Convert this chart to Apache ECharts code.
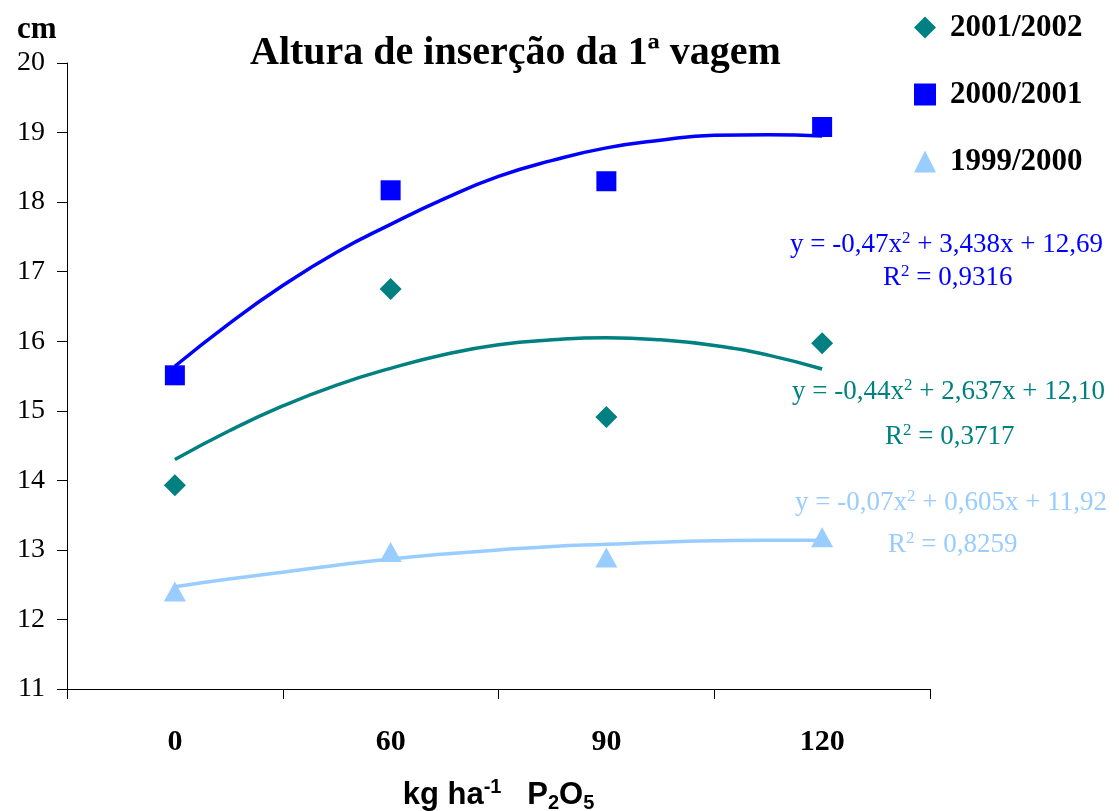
<!DOCTYPE html>
<html>
<head>
<meta charset="utf-8">
<script src="https://cdn.jsdelivr.net/npm/echarts@6/dist/echarts.min.js"></script>
<style>
  html, body { margin: 0; padding: 0; background: #fff; }
  #chart { width: 1119px; height: 811px; }
</style>
</head>
<body>
<div id="chart"></div>
<script>
// doses (categorias do eixo x)
var doses = ['0', '60', '90', '120'];
var yTicks = [11, 12, 13, 14, 15, 16, 17, 18, 19, 20];

// valores observados
var s2001 = [13.93, 16.75, 14.91, 15.97];
var s2000 = [15.51, 18.17, 18.30, 19.08];
var s1999 = [12.40, 12.97, 12.89, 13.18];

// linhas de tendência (posição x = 1..4)
var trendX = [1, 1.25, 1.5, 1.75, 2, 2.25, 2.5, 2.75, 3, 3.25, 3.5, 3.75, 4];
var trend2001 = [14.30, 14.71, 15.07, 15.37, 15.61, 15.81, 15.95, 16.02, 16.05, 16.02, 15.94, 15.80, 15.60];
var trend2000 = [15.64, 16.25, 16.80, 17.28, 17.68, 18.05, 18.37, 18.60, 18.78, 18.89, 18.96, 18.97, 18.95];
var trend1999 = [12.47, 12.58, 12.68, 12.78, 12.87, 12.94, 13.00, 13.05, 13.08, 13.11, 13.13, 13.14, 13.14];

var cTeal = '#008080', cBlue = '#0000FF', cLight = '#99CCFF';
var serif = '"Liberation Serif", "Times New Roman", serif';
var sans = '"Liberation Sans", Arial, sans-serif';

function pairs(xs, ys) {
    return xs.map(function (x, i) { return [x, ys[i]]; });
}

// texto da equação com expoente
function eqText(x, y, color, txt) {
    return {
        type: 'text', x: x, y: y,
        style: {
            text: txt, fill: color, align: 'left', verticalAlign: 'middle',
            rich: {
                n: { fontSize: 27, fontFamily: serif, color: color },
                s: { fontSize: 17, fontFamily: serif, color: color, verticalAlign: 'top', padding: [0, 0, 12, 0] }
            }
        }
    };
}

var myChart = echarts.init(document.getElementById('chart'));
myChart.setOption({
    backgroundColor: '#fff',
    animation: false,
    title: {
        text: 'Altura de inserção da 1ª vagem',
        left: 245, top: 29,
        textStyle: { fontFamily: serif, fontSize: 40, fontWeight: 'bold', color: '#000' }
    },
    legend: {
        orient: 'vertical',
        left: 909, top: 7,
        itemWidth: 22, itemHeight: 22, itemGap: 36,
        textStyle: { fontFamily: serif, fontSize: 31, lineHeight: 30, fontWeight: 'bold', color: '#000', padding: [0, 0, 0, 9] },
        data: [
            { name: '2001/2002', icon: 'diamond' },
            { name: '2000/2001', icon: 'rect' },
            { name: '1999/2000', icon: 'triangle' }
        ]
    },
    grid: { left: 67, right: 189, top: 63, bottom: 122, outerBoundsMode: 'none' },
    xAxis: [{
        type: 'category',
        data: doses,
        boundaryGap: true,
        axisLine: { lineStyle: { color: '#000', width: 1 } },
        axisTick: { show: true, length: 10, lineStyle: { color: '#000' } },
        axisLabel: { margin: 38, fontFamily: serif, fontSize: 30, fontWeight: 'bold', color: '#000' },
        name: '{n|kg ha}{s|-1}{n|   P}{b|2}{n|O}{b|5}',
        nameLocation: 'middle',
        nameGap: 88,
        nameTextStyle: {
            rich: {
                n: { fontFamily: sans, fontSize: 31, fontWeight: 'bold', color: '#000' },
                s: { fontFamily: sans, fontSize: 20, fontWeight: 'bold', color: '#000', verticalAlign: 'top', padding: [0, 0, 16, 0] },
                b: { fontFamily: sans, fontSize: 20, fontWeight: 'bold', color: '#000', verticalAlign: 'bottom', padding: [12, 0, 0, 0] }
            }
        },
        splitLine: { show: false }
    }, {
        type: 'value',
        min: 0.5, max: 4.5,
        show: false
    }],
    yAxis: {
        type: 'value',
        min: yTicks[0], max: yTicks[yTicks.length - 1], interval: 1,
        axisLine: { show: true, lineStyle: { color: '#000', width: 1 } },
        axisTick: { show: true, length: 10, lineStyle: { color: '#000' } },
        axisLabel: { margin: 22, fontFamily: serif, fontSize: 28, color: '#000' },
        splitLine: { show: false }
    },
    graphic: [
        { type: 'text', x: 17, y: 30,
          style: { text: 'cm', font: 'bold 31px ' + serif, fill: '#000', verticalAlign: 'middle' } },
        eqText(790, 245, cBlue, '{n|y = -0,47x}{s|2}{n| + 3,438x + 12,69}'),
        eqText(883, 278, cBlue, '{n|R}{s|2}{n| = 0,9316}'),
        eqText(792, 392, cTeal, '{n|y = -0,44x}{s|2}{n| + 2,637x + 12,10}'),
        eqText(885, 437, cTeal, '{n|R}{s|2}{n| = 0,3717}'),
        eqText(795, 503, cLight, '{n|y = -0,07x}{s|2}{n| + 0,605x + 11,92}'),
        eqText(888, 545, cLight, '{n|R}{s|2}{n| = 0,8259}')
    ],
    series: [{
        name: '2001/2002', type: 'scatter', data: s2001,
        symbol: 'diamond', symbolSize: [22, 22],
        itemStyle: { color: cTeal, opacity: 1 }, z: 5
    }, {
        name: '2000/2001', type: 'scatter', data: s2000,
        symbol: 'rect', symbolSize: [20, 20],
        itemStyle: { color: cBlue, opacity: 1 }, z: 5
    }, {
        name: '1999/2000', type: 'scatter', data: s1999,
        symbol: 'triangle', symbolSize: [22, 20],
        itemStyle: { color: cLight, opacity: 1 }, z: 5
    }, {
        type: 'line', xAxisIndex: 1, data: pairs(trendX, trend2001),
        smooth: true, showSymbol: false, lineStyle: { color: cTeal, width: 3.5 }, z: 3
    }, {
        type: 'line', xAxisIndex: 1, data: pairs(trendX, trend2000),
        smooth: true, showSymbol: false, lineStyle: { color: cBlue, width: 3.5 }, z: 3
    }, {
        type: 'line', xAxisIndex: 1, data: pairs(trendX, trend1999),
        smooth: true, showSymbol: false, lineStyle: { color: cLight, width: 3.5 }, z: 3
    }]
});
</script>
</body>
</html>
